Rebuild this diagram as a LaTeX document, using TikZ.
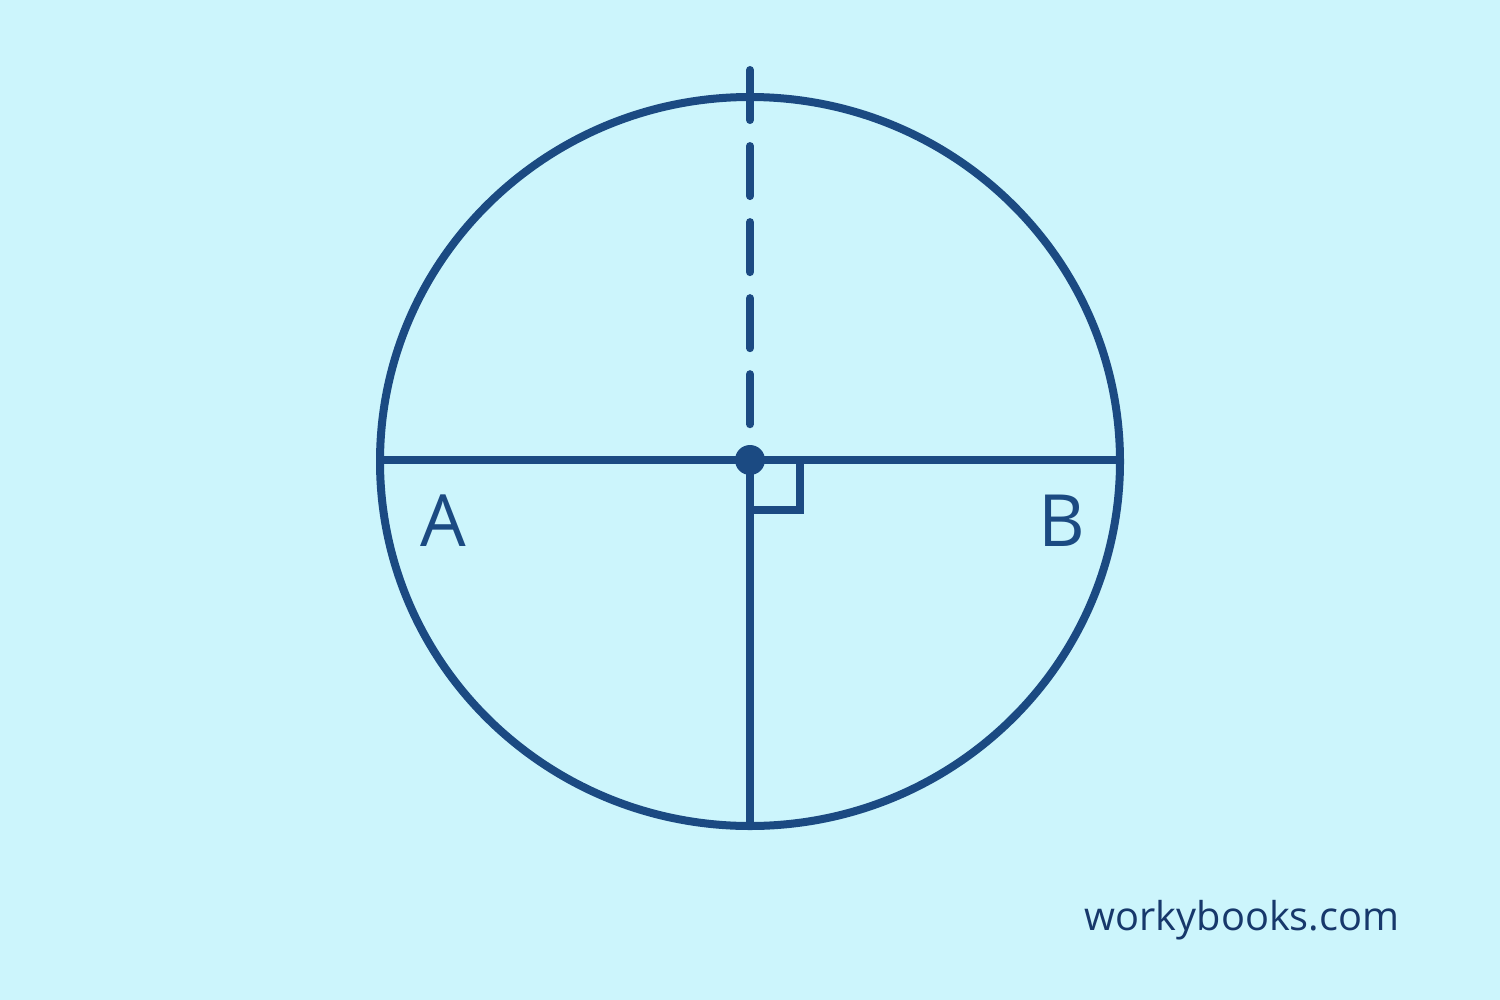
\documentclass[tikz,border=0pt]{standalone}
\usepackage{fontspec}
\setmainfont{Open Sans}
\definecolor{bgblue}{HTML}{CCF5FC}
\definecolor{linenavy}{HTML}{1B4A82}
\definecolor{textnavy}{HTML}{17386B}
\tikzset{
  geo/.style={draw=linenavy,line width=0.08cm},
  lbl/.style={text=linenavy,font=\fontsize{20.5}{24}\selectfont,inner sep=0pt}
}
\begin{document}
\begin{tikzpicture}[x=0.01cm,y=-0.01cm]
                \fill[bgblue] (0,0) rectangle (1500,1000);
                \useasboundingbox (0,0) rectangle (1500,1000);
                \coordinate (c) at (750,460);
                \coordinate (l) at (380,460);
                \coordinate (r) at (1120,460);
                \coordinate (t) at (750,70);
                \coordinate (d) at (750,430);
                \coordinate (b) at (750,826);
                \draw[geo] (750,461.5) ellipse [x radius=370,y radius=364.5];
                \draw[geo] (l)--(r);
                \draw[geo] (c)--(b);
                \draw[geo,line cap=round,dash pattern=on 0.5cm off 0.26cm] (t)--(d);
                \draw[geo] (c) ++(0,50) -| ++(50,-50);
                \fill[linenavy] (c) circle [radius=15];
                \node[lbl] (A) at (443,521) {A};
                \node[lbl] (B) at (1062,521) {B};
                \node[text=textnavy,font=\fontsize{11.3}{14}\selectfont,inner sep=0pt] (w) at (1242,920) {workybooks.com};
            \end{tikzpicture}
\end{document}
